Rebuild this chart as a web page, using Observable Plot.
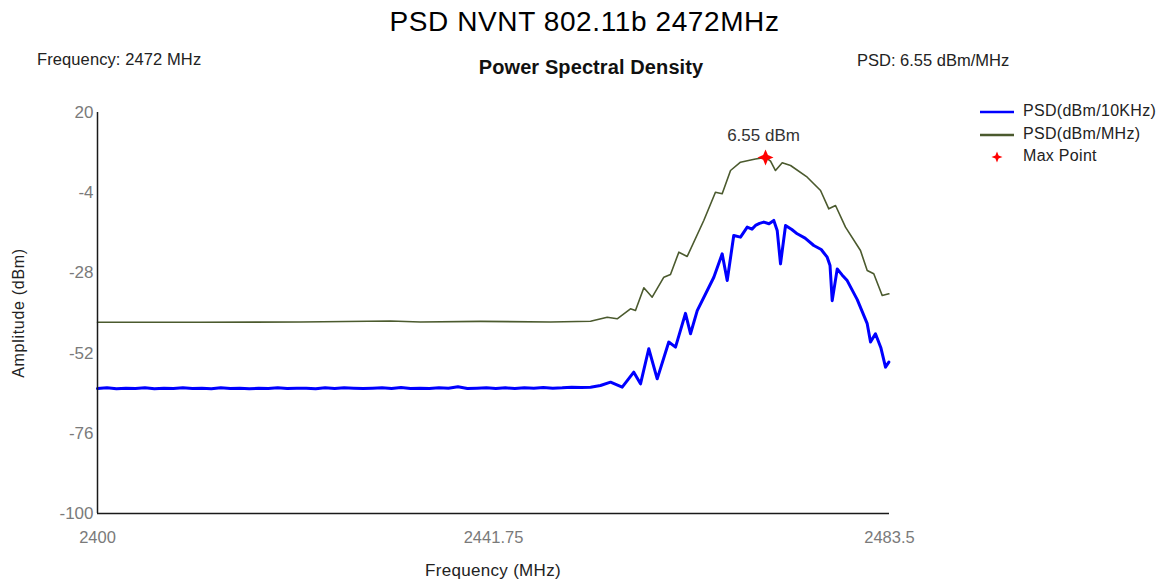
<!DOCTYPE html>
<html><head><meta charset="utf-8">
<script src="https://cdn.jsdelivr.net/npm/d3@7"></script>
<script src="https://cdn.jsdelivr.net/npm/@observablehq/plot@0.6"></script>
<style>
body{margin:0;background:#fff;font-family:"Liberation Sans",Arial,sans-serif;}
#wrap{position:relative;width:1169px;height:585px;overflow:hidden;}
.t{position:absolute;white-space:nowrap;line-height:1;}
#wrap svg{position:absolute;left:0;top:0;}
</style></head><body><div id="wrap"></div>
<script>
// ---- data ----
const xTicks = [2400, 2441.75, 2483.5];
const yTicks = [20, -4, -28, -52, -76, -100];

const greenFreq = [2400, 2410.86, 2421.40, 2430.89, 2434.05, 2440.38, 2447.76, 2451.98, 2453.74, 2454.79,
  2456.19, 2456.72, 2457.60, 2458.48, 2459.71, 2460.41, 2461.29, 2462.17, 2463.92, 2465.15,
  2465.86, 2466.74, 2467.79, 2468.63, 2469.37, 2470.43, 2470.96, 2471.48, 2472.19, 2473.07,
  2474.83, 2476.23, 2477.10, 2477.81, 2478.86, 2480.44, 2481.15, 2481.84, 2482.73, 2483.43];
const greenDbm = [-42.75, -42.75, -42.7, -42.4, -42.7, -42.5, -42.7, -42.45, -41.26, -41.73,
  -38.74, -39.25, -32.46, -35.27, -29.29, -28.48, -21.80, -23.09, -12.32, -3.85,
  -4.33, 2.64, 5.13, 5.64, 6.08, 6.55, 5.43, 2.64, 4.95, 4.14,
  0.64, -3.34, -8.82, -7.83, -14.32, -21.30, -27.28, -28.27, -34.76, -34.25];

const blueFreq = [2400, 2401, 2402, 2403, 2404, 2405, 2406, 2407, 2408, 2409,
  2410, 2411, 2412, 2413, 2414, 2415, 2416, 2417, 2418, 2419,
  2420, 2421, 2422, 2423, 2424, 2425, 2426, 2427, 2428, 2429,
  2430, 2431, 2432, 2433, 2434, 2435, 2436, 2437, 2438, 2439,
  2440, 2441, 2442, 2443, 2444, 2445, 2446, 2447, 2448, 2449,
  2450, 2451,
  2451.98, 2453.03, 2454.09, 2455.32, 2456.54, 2457.25, 2458.12, 2459.01, 2460.23, 2460.94,
  2461.99, 2462.52, 2463.23, 2464.98, 2465.86, 2466.39, 2467.08, 2467.79, 2468.50, 2469.0,
  2469.37, 2469.8, 2470.25, 2470.8, 2471.30, 2471.66, 2472.01, 2472.54, 2473.2, 2473.77,
  2474.6, 2475.52, 2476.3, 2476.93, 2477.23, 2477.46, 2477.99, 2478.5, 2479.04, 2480.1,
  2481.15, 2481.50, 2482.02, 2482.6, 2483.08, 2483.43];
const blueDbm = [-62.6, -62.4, -62.7, -62.5, -62.6, -62.4, -62.7, -62.5, -62.6, -62.4,
  -62.6, -62.5, -62.7, -62.4, -62.6, -62.5, -62.7, -62.5, -62.6, -62.4,
  -62.6, -62.5, -62.5, -62.7, -62.4, -62.6, -62.4, -62.5, -62.6, -62.5,
  -62.4, -62.6, -62.3, -62.6, -62.5, -62.6, -62.4, -62.5, -62.1, -62.6,
  -62.5, -62.4, -62.6, -62.4, -62.6, -62.4, -62.5, -62.3, -62.5, -62.4,
  -62.2, -62.3,
  -62.2, -61.7, -60.7, -62.2, -57.7, -61.2, -50.7, -59.7, -48.7, -50.2,
  -40.1, -46.2, -39.3, -29.3, -22.3, -30.3, -16.8, -17.3, -14.3, -14.9,
  -13.8, -13.2, -12.8, -13.3, -12.3, -15.3, -25.3, -13.8, -15.0, -16.3,
  -17.6, -19.8, -21.0, -23.3, -25.8, -36.3, -26.8, -28.6, -30.3, -36.0,
  -43.2, -48.7, -46.2, -50.5, -56.2, -54.7];

const maxFreq = [2470.43];
const maxDbm = [6.55];
const maxLabel = ["6.55 dBm"];

const titleText = "PSD NVNT 802.11b 2472MHz";
const chartTitle = "Power Spectral Density";
const leftInfo = "Frequency: 2472 MHz";
const rightInfo = "PSD: 6.55 dBm/MHz";
const legendNames = ["PSD(dBm/10KHz)", "PSD(dBm/MHz)", "Max Point"];
const xLabel = "Frequency (MHz)";
const yLabel = "Amplitude (dBm)";

// ---- build ----
const green = greenFreq.map((f, i) => ({f, v: greenDbm[i]}));
const blue = blueFreq.map((f, i) => ({f, v: blueDbm[i]}));
const maxPt = maxFreq.map((f, i) => ({f, v: maxDbm[i], label: maxLabel[i]}));

const star4 = {
  draw(ctx, size) {
    const r = Math.sqrt(size) * 0.9, s = r * 0.3;
    ctx.moveTo(0, -r); ctx.lineTo(s, -s); ctx.lineTo(r, 0); ctx.lineTo(s, s);
    ctx.lineTo(0, r); ctx.lineTo(-s, s); ctx.lineTo(-r, 0); ctx.lineTo(-s, -s); ctx.closePath();
  }
};

const FONT = '"Liberation Sans", Arial, sans-serif';
const plot = Plot.plot({
  width: 1169, height: 585,
  marginLeft: 97, marginRight: 280, marginTop: 112, marginBottom: 72,
  x: {domain: [2400, 2483.5]},
  y: {domain: [-100, 20]},
  style: {fontFamily: FONT, fontSize: "16px", background: "transparent", overflow: "visible"},
  marks: [
    Plot.axisY({ticks: yTicks, tickSize: 0, tickPadding: 4, label: null, tickFormat: d => String(d), fill: "#7a7a7a", fontSize: 17, letterSpacing: "0.6px"}),
    Plot.axisX({ticks: xTicks, tickSize: 0, tickPadding: 18, label: null, tickFormat: d => String(d), fill: "#7a7a7a", fontSize: 16.5}),
    Plot.line(green, {x: "f", y: "v", stroke: "#4b5a2e", strokeWidth: 1.6}),
    Plot.line(blue, {x: "f", y: "v", stroke: "#0000ff", strokeWidth: 3}),
    Plot.ruleX([2400], {stroke: "#1a1a1a", strokeWidth: 1.5}),
    Plot.ruleY([-100], {stroke: "#1a1a1a", strokeWidth: 1.5}),
    Plot.dot(maxPt, {x: "f", y: "v", symbol: star4, r: 5, fill: "#ff0000", stroke: "none"}),
    Plot.text(maxPt, {x: "f", y: "v", text: "label", dx: -2, dy: -22, fill: "#333", fontSize: 17})
  ]
});

const wrap = document.getElementById("wrap");
wrap.appendChild(plot);

function addText(txt, css) {
  const d = document.createElement("div");
  d.className = "t";
  d.textContent = txt;
  Object.assign(d.style, css);
  wrap.appendChild(d);
  return d;
}
addText(titleText, {left: "0", width: "1169px", textAlign: "center", top: "8px", fontSize: "28px", color: "#000", letterSpacing: "0.6px"});
addText(chartTitle, {left: "441px", width: "300px", textAlign: "center", top: "57px", fontSize: "20px", fontWeight: "bold", color: "#111", letterSpacing: "0.1px"});
addText(leftInfo, {left: "37px", top: "51px", fontSize: "16.5px", color: "#222", letterSpacing: "0.1px"});
addText(rightInfo, {left: "857px", top: "52px", fontSize: "16.5px", color: "#222", letterSpacing: "0px"});
addText(xLabel, {left: "393px", width: "200px", textAlign: "center", top: "562px", fontSize: "17px", color: "#222", letterSpacing: "0.3px"});
const yl = addText(yLabel, {left: "19px", top: "313px", fontSize: "16px", color: "#222", letterSpacing: "0.7px"});
yl.style.transform = "translate(-50%,-50%) rotate(-90deg)";

// legend
const legColors = ["#0000ff", "#4b5a2e"];
const legY = [112, 135, 157];
legendNames.forEach((name, i) => {
  addText(name, {left: "1023px", top: (legY[i] - 9) + "px", fontSize: "16px", color: "#222", letterSpacing: "0.3px"});
});
const ns = "http://www.w3.org/2000/svg";
const lsvg = document.createElementNS(ns, "svg");
lsvg.setAttribute("width", 1169); lsvg.setAttribute("height", 585);
lsvg.style.pointerEvents = "none";
legColors.forEach((c, i) => {
  const l = document.createElementNS(ns, "line");
  l.setAttribute("x1", 980); l.setAttribute("x2", 1014);
  l.setAttribute("y1", legY[i]); l.setAttribute("y2", legY[i]);
  l.setAttribute("stroke", c); l.setAttribute("stroke-width", 2.6);
  lsvg.appendChild(l);
});
const sp = document.createElementNS(ns, "path");
const r = 5.5, s = 1.6, cx = 997, cy = legY[2];
sp.setAttribute("d", `M${cx},${cy - r}L${cx + s},${cy - s}L${cx + r},${cy}L${cx + s},${cy + s}L${cx},${cy + r}L${cx - s},${cy + s}L${cx - r},${cy}L${cx - s},${cy - s}Z`);
sp.setAttribute("fill", "#ff0000");
lsvg.appendChild(sp);
wrap.appendChild(lsvg);
</script></body></html>
